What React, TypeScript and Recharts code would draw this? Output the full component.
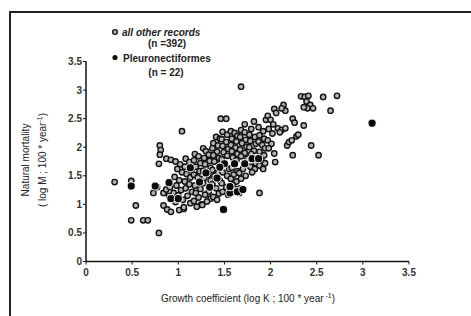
import React from "react";
import { ScatterChart, Scatter, XAxis, YAxis } from "recharts";

const xTicks = [0, 0.5, 1, 1.5, 2, 2.5, 3, 3.5];
const yTicks = [0, 0.5, 1, 1.5, 2, 2.5, 3, 3.5];

// log K, log M pairs – "all other records"
const otherRecords: [number, number][] = [
  [0.31, 1.39], [0.49, 1.41], [0.54, 0.98], [0.49, 0.72], [0.62, 0.72], [0.67, 0.72], [0.79, 0.5],
  [0.73, 1.2], [0.77, 1.3], [0.8, 2.03], [0.81, 1.95], [0.8, 1.87], [0.79, 1.71], [0.87, 1.8], [0.92, 1.78],
  [1.04, 2.28], [0.84, 0.98], [0.88, 0.91], [0.92, 0.87], [1.01, 0.9], [1.06, 0.92], [0.84, 1.2],
  [0.87, 1.26], [0.91, 1.3], [0.9, 1.15],
  [0.97, 1.75], [1.02, 1.7], [0.99, 1.62], [1.04, 1.56], [0.96, 1.48], [1.01, 1.42], [0.98, 1.33],
  [1.03, 1.25], [0.95, 1.2], [1.0, 1.16], [1.05, 1.08], [0.97, 1.04],
  [1.08, 1.8], [1.12, 1.74], [1.07, 1.66], [1.14, 1.6], [1.09, 1.53], [1.13, 1.47], [1.07, 1.4],
  [1.12, 1.35], [1.08, 1.28], [1.15, 1.22], [1.1, 1.15], [1.06, 0.95], [1.13, 1.02],
  [1.18, 1.88], [1.22, 1.84], [1.17, 1.77], [1.24, 1.72], [1.19, 1.66], [1.23, 1.58], [1.17, 1.52],
  [1.21, 1.47], [1.18, 1.33], [1.24, 1.27], [1.19, 1.2], [1.22, 1.12], [1.17, 1.06], [1.25, 1.0], [1.2, 0.96],
  [1.27, 1.98], [1.3, 1.93], [1.33, 1.87], [1.28, 1.81], [1.34, 1.76], [1.29, 1.7], [1.35, 1.64],
  [1.27, 1.59], [1.32, 1.52], [1.28, 1.46], [1.35, 1.42], [1.27, 1.37], [1.33, 1.22], [1.29, 1.17],
  [1.35, 1.1], [1.31, 1.05], [1.26, 0.99],
  [1.41, 2.18], [1.45, 2.15], [1.38, 2.07], [1.43, 2.03], [1.37, 1.98], [1.42, 1.92], [1.38, 1.86],
  [1.44, 1.81], [1.39, 1.75], [1.45, 1.7], [1.37, 1.6], [1.43, 1.55], [1.39, 1.5], [1.45, 1.42],
  [1.37, 1.35], [1.41, 1.28], [1.44, 1.19], [1.38, 1.13], [1.42, 1.08],
  [1.46, 2.5], [1.52, 2.5], [1.48, 2.27], [1.53, 2.22], [1.47, 2.14], [1.52, 2.09], [1.48, 2.02],
  [1.54, 1.97], [1.49, 1.91], [1.53, 1.85], [1.47, 1.79], [1.55, 1.62], [1.48, 1.56], [1.53, 1.5],
  [1.47, 1.37], [1.52, 1.3], [1.48, 1.22], [1.54, 1.17],
  [1.57, 2.28], [1.61, 2.25], [1.64, 2.2], [1.58, 2.15], [1.63, 2.1], [1.57, 2.04], [1.62, 1.99],
  [1.58, 1.93], [1.64, 1.88], [1.59, 1.82], [1.63, 1.77], [1.58, 1.64], [1.64, 1.58], [1.6, 1.52],
  [1.57, 1.45], [1.63, 1.4], [1.59, 1.34], [1.61, 1.27], [1.57, 1.2], [1.68, 3.06],
  [1.68, 2.3], [1.72, 2.26], [1.67, 2.18], [1.73, 2.13], [1.69, 2.07], [1.74, 2.01], [1.67, 1.96],
  [1.72, 1.9], [1.68, 1.84], [1.75, 1.8], [1.7, 1.62], [1.66, 1.55], [1.73, 1.5], [1.68, 1.45],
  [1.67, 1.28], [1.66, 1.2], [1.72, 2.4],
  [1.79, 2.32], [1.82, 2.45], [1.77, 2.22], [1.83, 2.18], [1.78, 2.11], [1.84, 2.06], [1.77, 2.0],
  [1.82, 1.94], [1.79, 1.88], [1.84, 1.72], [1.78, 1.66], [1.83, 1.62], [1.8, 1.56], [1.88, 1.2],
  [1.87, 2.35], [1.92, 2.28], [1.88, 2.21], [1.93, 2.15], [1.87, 2.1], [1.91, 2.04], [1.94, 1.98],
  [1.88, 1.92], [1.93, 1.86], [1.9, 1.78], [1.94, 1.72], [1.88, 1.68], [1.92, 1.62], [1.95, 2.48],
  [1.97, 2.55], [2.0, 2.48], [1.98, 2.32], [2.02, 2.24], [1.97, 2.12], [2.01, 2.06], [1.98, 1.98],
  [2.04, 1.89], [2.05, 1.74], [2.03, 2.4], [2.04, 2.67], [2.06, 2.6],
  [2.08, 2.33], [2.12, 2.3], [2.16, 2.33], [2.1, 2.26], [2.14, 2.74], [2.16, 2.64], [2.12, 2.68],
  [2.18, 2.03], [2.2, 2.09],
  [2.24, 2.5], [2.26, 2.43], [2.23, 2.12], [2.28, 2.19], [2.3, 2.22], [2.24, 1.86], [2.33, 2.89],
  [2.37, 2.88], [2.41, 2.9], [2.39, 2.8], [2.43, 2.74], [2.4, 2.68], [2.36, 2.7], [2.46, 2.68],
  [2.36, 2.38], [2.44, 2.03], [2.52, 1.86],
  [2.57, 2.88], [2.65, 2.64], [2.72, 2.9],
];

// Pleuronectiformes
const pleuronectiformes: [number, number][] = [
  [0.49, 1.32], [0.75, 1.32], [0.9, 1.38], [0.92, 1.1], [1.0, 1.1], [1.49, 0.91], [3.1, 2.42],
  [1.5, 1.71], [1.61, 1.71], [1.72, 1.71], [1.8, 1.8], [1.87, 1.8], [1.23, 1.39], [1.34, 1.3],
  [1.56, 1.2], [1.64, 1.22], [1.13, 1.64], [1.42, 1.46], [1.56, 1.31], [1.45, 1.65], [1.3, 1.55],
  [1.7, 1.26],
];

const otherData = otherRecords.map(([k, m]) => ({ k, m }));
const pleuroData = pleuronectiformes.map(([k, m]) => ({ k, m }));

const FONT = "'Liberation Sans', Arial, sans-serif";

const OtherDot = (p: any) => (
  <circle cx={p.cx} cy={p.cy} r={2.7} fill="#b4b4b4" stroke="#111" strokeWidth={1.4} />
);
const PleuroDot = (p: any) => (
  <circle cx={p.cx} cy={p.cy} r={4.1} fill="#0a0a0a" stroke="#fff" strokeWidth={1} />
);

export default function App() {
  const tickStyle = { fontSize: 10, fontWeight: 700, fill: "#333", fontFamily: FONT };
  return (
    <div style={{ position: "fixed", left: 0, top: 0, width: 471, height: 316, background: "#fff", overflow: "hidden" }}>
      <div style={{ position: "absolute", left: 9, top: 11, width: 480, height: 330, border: "2px solid #222", boxSizing: "border-box" }} />
      <div style={{ position: "absolute", left: 0, top: 0 }}>
        <ScatterChart width={471} height={316} margin={{ top: 61.5, right: 62, bottom: 24.5, left: 46 }}>
          <XAxis
            type="number"
            dataKey="k"
            domain={[0, 3.5]}
            ticks={xTicks}
            tickSize={3}
            tickMargin={4}
            height={30}
            axisLine={{ stroke: "#111", strokeWidth: 1.5 }}
            tickLine={{ stroke: "#111" }}
            tick={tickStyle}
            interval={0}
          />
          <YAxis
            type="number"
            dataKey="m"
            domain={[0, 3.5]}
            ticks={yTicks}
            tickSize={3}
            tickMargin={1}
            width={40}
            axisLine={{ stroke: "#111", strokeWidth: 1.5 }}
            tickLine={{ stroke: "#111" }}
            tick={tickStyle}
            interval={0}
          />
          <Scatter data={otherData} shape={OtherDot} isAnimationActive={false} />
          <Scatter data={pleuroData} shape={PleuroDot} isAnimationActive={false} />
        </ScatterChart>
      </div>
      <svg width={471} height={316} style={{ position: "absolute", left: 0, top: 0, pointerEvents: "none" }}>
        <g fontFamily={FONT} fill="#222">
          <circle cx={115} cy={32} r={2.4} fill="#b4b4b4" stroke="#111" strokeWidth={1.3} />
          <text x={122} y={35.5} fontSize={10} fontWeight={700} fontStyle="italic">all other records</text>
          <text x={167} y={46.5} fontSize={10} fontWeight={700} textAnchor="middle">(n =392)</text>
          <circle cx={115} cy={57.5} r={2.6} fill="#111" />
          <text x={123} y={61.5} fontSize={10} fontWeight={700}>Pleuronectiformes</text>
          <text x={166} y={76} fontSize={10} fontWeight={700} textAnchor="middle">(n = 22)</text>
          <text x={248} y={301.5} fontSize={10} textAnchor="middle">
            Growth coefficient (log K ; 100 * year
            <tspan dy={-4} fontSize={7}> -1</tspan>
            <tspan dy={4}>)</tspan>
          </text>
          <text transform="translate(28.5,160) rotate(-90)" fontSize={10} textAnchor="middle">Natural mortality</text>
          <text transform="translate(45.5,160) rotate(-90)" fontSize={10} textAnchor="middle">
            ( log M ; 100 * year
            <tspan dy={-4} fontSize={7}>-1</tspan>
            <tspan dy={4}>)</tspan>
          </text>
        </g>
      </svg>
    </div>
  );
}
